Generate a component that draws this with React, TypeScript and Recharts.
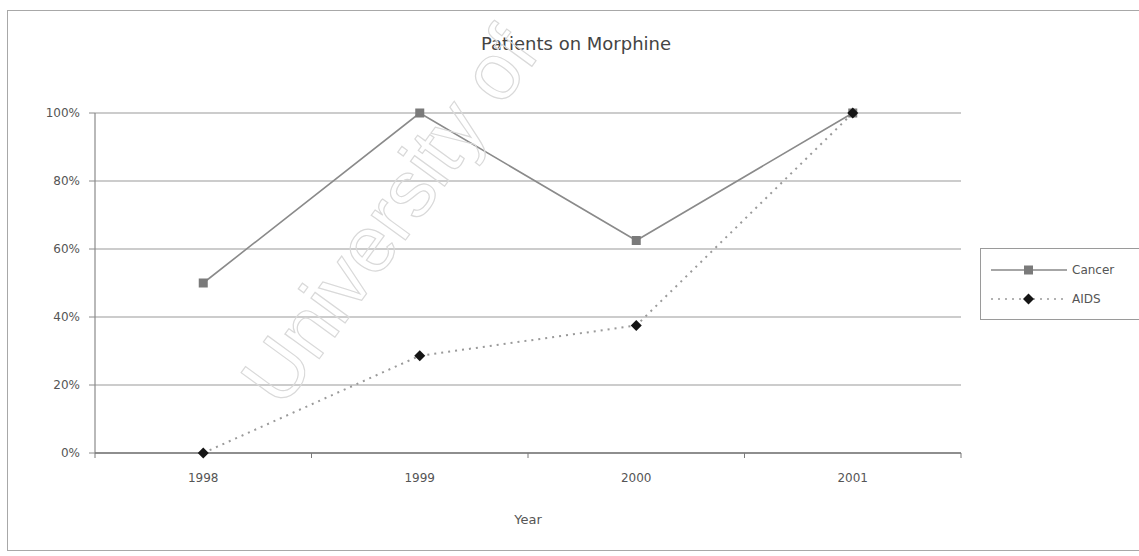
import {
  LineChart,
  Line,
  XAxis,
  YAxis,
  CartesianGrid,
  Legend,
} from "recharts";

const years = [1998, 1999, 2000, 2001];
const cancerPct = [50, 100, 62.5, 100];
const aidsPct = [0, 28.6, 37.5, 100];
const yTicks = [0, 20, 40, 60, 80, 100];
const bandEdges = [1997.5, 1998.5, 1999.5, 2000.5, 2001.5];

const data = years.map((y, i) => ({ year: y, Cancer: cancerPct[i], AIDS: aidsPct[i] }));

const FONT = "'DejaVu Sans', 'Noto Sans', sans-serif";
const TEXT = "#555";

/** grey square marker for Cancer */
function SquareDot(props: any) { // eslint-disable-line @typescript-eslint/no-explicit-any
  const { cx, cy, index } = props;
  if (cx == null || cy == null) return null;
  return <rect key={`sq-${index}`} x={cx - 4.5} y={cy - 4.5} width={9} height={9} fill="#7a7a7a" />;
}

/** black diamond marker for AIDS */
function DiamondDot(props: any) { // eslint-disable-line @typescript-eslint/no-explicit-any
  const { cx, cy, index } = props;
  if (cx == null || cy == null) return null;
  const r = 5.5;
  return (
    <polygon
      key={`dm-${index}`}
      points={`${cx},${cy - r} ${cx + r},${cy} ${cx},${cy + r} ${cx - r},${cy}`}
      fill="#151515"
    />
  );
}

function LegendBox() {
  const rows = [
    { name: "Cancer", dash: undefined as string | undefined, color: "#888", marker: "square" },
    { name: "AIDS", dash: "2 5", color: "#999", marker: "diamond" },
  ];
  return (
    <div
      style={{
        border: "1px solid #9a9a9a",
        background: "#fff",
        padding: "6px 0 6px 8px",
        width: 170,
        fontFamily: FONT,
        fontSize: 12,
        color: TEXT,
      }}
    >
      {rows.map((r) => (
        <div key={r.name} style={{ display: "flex", alignItems: "center", height: 29 }}>
          <svg width={80} height={14}>
            <line x1={2} y1={7} x2={78} y2={7} stroke={r.color} strokeWidth={1.5} strokeDasharray={r.dash} />
            {r.marker === "square" ? (
              <rect x={35} y={2.5} width={9} height={9} fill="#7a7a7a" />
            ) : (
              <polygon points="39.5,1.5 45,7 39.5,12.5 34,7" fill="#151515" />
            )}
          </svg>
          <span style={{ marginLeft: 3 }}>{r.name}</span>
        </div>
      ))}
    </div>
  );
}

export default function App() {
  return (
    <div style={{ position: "absolute", left: 0, top: 0, width: 1139, height: 556, background: "#fff", overflow: "hidden" }}>
      <div
        style={{
          position: "absolute",
          left: 7,
          top: 10,
          width: 1150,
          height: 541,
          border: "1px solid #a8a8a8",
          boxSizing: "border-box",
        }}
      />
      <div
        style={{
          position: "absolute",
          left: 0,
          top: 33,
          width: 1152,
          textAlign: "center",
          fontFamily: FONT,
          fontSize: 18,
          color: "#444",
        }}
      >
        Patients on Morphine
      </div>
      <LineChart
        width={1139}
        height={556}
        data={data}
        margin={{ top: 113, right: 178, bottom: 13, left: 0 }}
        style={{ position: "absolute", left: 0, top: 0 }}
      >
        <CartesianGrid vertical={false} stroke="#9a9a9a" strokeWidth={1.2} />
        <YAxis
          domain={[0, 100]}
          ticks={yTicks}
          tickFormatter={(v: number) => `${v}%`}
          width={95}
          tickSize={6}
          tickMargin={9}
          tick={{ fontSize: 12, fill: TEXT, fontFamily: FONT }}
          stroke="#8a8a8a"
          axisLine={{ stroke: "#8a8a8a", strokeWidth: 1.2 }}
        />
        <XAxis
          xAxisId="bands"
          dataKey="year"
          type="number"
          domain={[1997.5, 2001.5]}
          ticks={bandEdges}
          tickFormatter={() => ""}
          tickSize={5}
          height={10}
          axisLine={{ stroke: "#7a7a7a", strokeWidth: 1.4 }}
          tickLine={{ stroke: "#7a7a7a" }}
        />
        <XAxis
          xAxisId="labels"
          dataKey="year"
          type="number"
          domain={[1997.5, 2001.5]}
          ticks={years}
          tickLine={false}
          axisLine={false}
          tickSize={0}
          tickMargin={10}
          height={80}
          tick={{ fontSize: 12, fill: TEXT, fontFamily: FONT }}
          label={{ value: "Year", position: "insideTop", offset: 52, fontSize: 13, fill: TEXT, fontFamily: FONT }}
        />
        <Legend
          layout="horizontal"
          align="center"
          verticalAlign="middle"
          content={<LegendBox />}
          wrapperStyle={{ left: 980, top: 248, width: 180 }}
        />
        <Line
          xAxisId="bands"
          dataKey="Cancer"
          stroke="#8a8a8a"
          strokeWidth={1.6}
          dot={<SquareDot />}
          activeDot={false}
          isAnimationActive={false}
        />
        <Line
          xAxisId="bands"
          dataKey="AIDS"
          stroke="#9a9a9a"
          strokeWidth={2}
          strokeDasharray="2 5"
          dot={<DiamondDot />}
          activeDot={false}
          isAnimationActive={false}
        />
      </LineChart>
      <svg width={1139} height={556} style={{ position: "absolute", left: 0, top: 0, pointerEvents: "none" }}>
        <text
          x={0}
          y={0}
          transform="translate(282,410) rotate(-54)"
          fontFamily="'Liberation Sans', sans-serif"
          fontSize={80}
          fill="none"
          stroke="#d9d9d9"
          strokeWidth={1.2}
        >
          University of
        </text>
      </svg>
    </div>
  );
}
